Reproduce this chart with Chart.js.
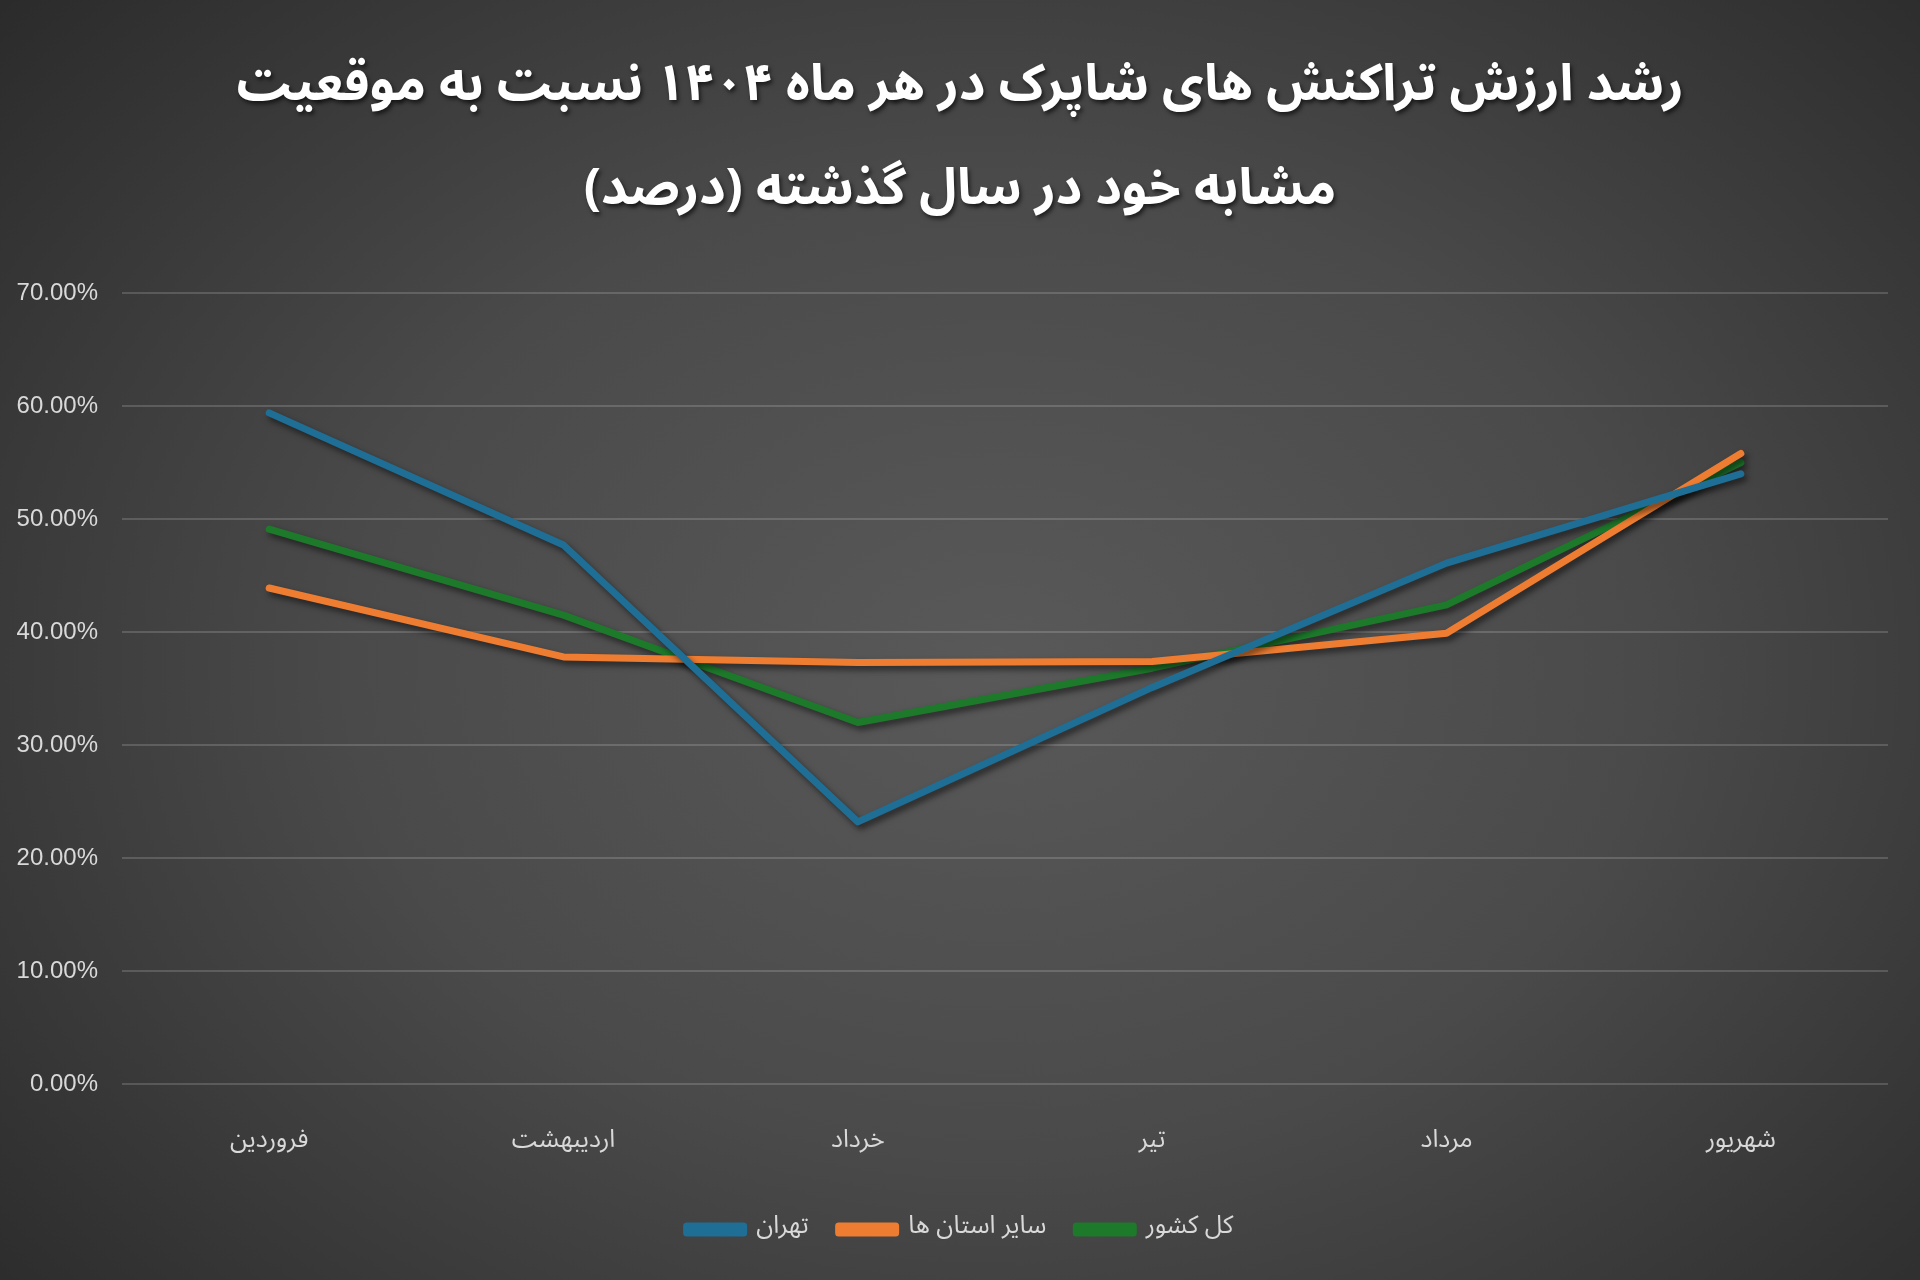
<!DOCTYPE html>
<html>
<head>
<meta charset="utf-8">
<script src="https://cdn.jsdelivr.net/npm/chart.js@4/dist/chart.umd.min.js"></script>
<style>
  html, body { margin: 0; padding: 0; }
  body {
    width: 1920px; height: 1280px; overflow: hidden;
    background: radial-gradient(ellipse 75% 85% at 52% 52%, #595959 0%, #4a4a4a 45%, #333333 80%, #262626 100%);
  }
  #wrap { width: 1920px; height: 1280px; }
</style>
</head>
<body>
<div id="wrap"><canvas id="chart" width="1920" height="1280"></canvas></div>
<script>
// DATA
const months = ["فروردین", "اردیبهشت", "خرداد", "تیر", "مرداد", "شهریور"];
const tehran = [59.4, 47.7, 23.2, 35.1, 46.1, 54.0];
const otherProvinces = [43.9, 37.8, 37.3, 37.4, 39.9, 55.8];
const wholeCountry = [49.1, 41.5, 32.0, 36.8, 42.4, 55.0];
const seriesNames = ["تهران", "سایر استان ها", "کل کشور"];
const titleLines = ["رشد ارزش تراکنش های شاپرک در هر ماه ۱۴۰۴ نسبت به موقعیت", "مشابه خود در سال گذشته (درصد)"];

const arabicFont = "'Noto Sans Arabic', 'DejaVu Sans', sans-serif";

// shadow under the lines
const lineShadow = {
  id: "lineShadow",
  beforeDatasetsDraw(chart) {
    const c = chart.ctx;
    c.save();
    c.shadowColor = "rgba(0,0,0,0.55)";
    c.shadowBlur = 6;
    c.shadowOffsetX = 3;
    c.shadowOffsetY = 4;
  },
  afterDatasetsDraw(chart) {
    chart.ctx.restore();
  }
};

// shadow under the title text
const titleShadow = {
  id: "titleShadow",
  afterInit(chart) {
    const tb = chart.titleBlock;
    if (!tb) return;
    const orig = tb.draw.bind(tb);
    tb.draw = function () {
      const c = chart.ctx;
      c.save();
      c.shadowColor = "rgba(0,0,0,0.6)";
      c.shadowBlur = 4;
      c.shadowOffsetX = 2;
      c.shadowOffsetY = 3;
      orig();
      c.restore();
    };
  }
};

// y labels reach into the left padding, so widen the label clip
const wideYLabels = {
  id: "wideYLabels",
  afterLayout(chart) {
    chart.scales.y.left = 0;
  }
};

function ds(label, data, color) {
  return {
    label: label,
    data: data,
    borderColor: color,
    backgroundColor: color,
    borderWidth: 7,
    pointRadius: 0,
    pointHoverRadius: 0,
    tension: 0,
    borderCapStyle: "round",
    borderJoinStyle: "round",
    fill: false
  };
}

const ctx = document.getElementById("chart").getContext("2d");
const chart = new Chart(ctx, {
  type: "line",
  data: {
    labels: months,
    datasets: [
      ds(seriesNames[0], tehran, "#1f6e95"),
      ds(seriesNames[1], otherProvinces, "#ee7d31"),
      ds(seriesNames[2], wholeCountry, "#1d7a2b")
    ]
  },
  plugins: [lineShadow, titleShadow, wideYLabels],
  options: {
    responsive: false,
    devicePixelRatio: 1,
    animation: false,
    layout: { padding: { left: 32, right: 32, top: 0, bottom: 28 } },
    plugins: {
      title: {
        display: true,
        text: titleLines,
        color: "#ffffff",
        font: { family: arabicFont, size: 51, weight: "bold", lineHeight: 2.04 },
        padding: { top: 40, bottom: 45 }
      },
      legend: {
        position: "bottom",
        labels: {
          color: "#d9d9d9",
          font: { family: arabicFont, size: 25 },
          boxWidth: 57,
          boxHeight: 7,
          padding: 30
        }
      },
      tooltip: { enabled: false }
    },
    scales: {
      x: {
        offset: true,
        grid: { display: false },
        border: { display: false },
        ticks: {
          color: "#d9d9d9",
          font: { family: arabicFont, size: 25 },
          padding: 36
        },
        afterFit(scale) { scale.height = 103; }
      },
      y: {
        min: 0,
        max: 70,
        grid: { color: "rgba(255,255,255,0.16)", lineWidth: 2, drawTicks: false },
        border: { display: false },
        ticks: {
          stepSize: 10,
          color: "#d9d9d9",
          font: { family: "'Liberation Sans', Arial, sans-serif", size: 24 },
          padding: 24,
          callback: (v) => v.toFixed(2) + "%"
        },
        afterFit(scale) { scale.width = 90; }
      }
    }
  }
});
</script>
</body>
</html>
